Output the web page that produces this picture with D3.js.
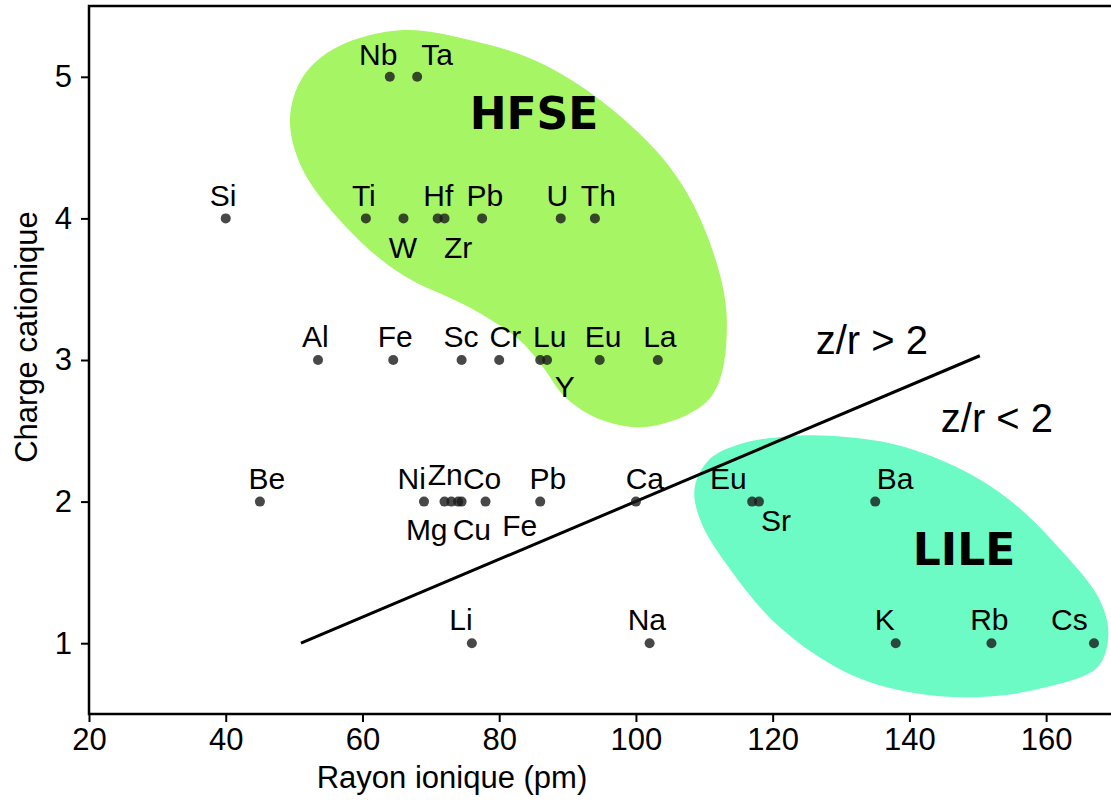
<!DOCTYPE html>
<html>
<head>
<meta charset="utf-8">
<script src="https://cdn.jsdelivr.net/npm/d3@7/dist/d3.min.js"></script>
<style>
  body { margin: 0; background: #fff; }
  svg { display: block; }
</style>
</head>
<body>
<div id="vis"></div>
<script>
// element data: ionic radius (pm) and cation charge
const ELEMENTS = ["Nb","Ta","Si","Ti","W","Hf","Zr","Pb","U","Th",
                  "Al","Fe","Sc","Cr","Lu","Y","Eu","La",
                  "Be","Ni","Mg","Cu","Zn","Co","Fe","Pb","Ca","Eu","Sr","Ba",
                  "Li","Na","K","Rb","Cs"];
const RADIUS = [64, 68, 40, 60.5, 66, 71, 72, 77.5, 89, 94,
                53.5, 64.5, 74.5, 80, 86, 87, 94.7, 103.2,
                45, 69, 72, 73, 74, 74.5, 78, 86, 100, 117, 118, 135,
                76, 102, 138, 152, 167];
const CHARGE = [5, 5, 4, 4, 4, 4, 4, 4, 4, 4,
                3, 3, 3, 3, 3, 3, 3, 3,
                2, 2, 2, 2, 2, 2, 2, 2, 2, 2, 2, 2,
                1, 1, 1, 1, 1];
// where each name sits, in data units
const LABEL_X = [62.3, 70.9, 39.6, 60.2, 65.9, 71.1, 74.0, 77.9, 88.5, 94.5,
                 53.1, 64.8, 74.4, 80.9, 87.4, 89.6, 95.2, 103.5,
                 46.0, 67.2, 69.4, 76.0, 72.1, 77.5, 83.0, 87.1, 101.3, 113.5, 120.5, 137.9,
                 74.4, 101.6, 136.4, 151.7, 163.4];
const LABEL_Y = [5.085, 5.085, 4.09, 4.09, 3.72, 4.09, 3.72, 4.09, 4.09, 4.09,
                 3.09, 3.09, 3.09, 3.09, 3.09, 2.74, 3.09, 3.09,
                 2.09, 2.09, 1.73, 1.73, 2.12, 2.09, 1.76, 2.09, 2.09, 2.09, 1.79, 2.09,
                 1.09, 1.09, 1.09, 1.09, 1.09];

// outlines of the two groups (data units)
const HFSE_SHAPE = [[65.9,5.33],[75.7,5.26],[85.5,5.11],[95.2,4.82],[105.0,4.36],[110.5,3.87],
                    [113.3,3.28],[111.0,2.74],[102.1,2.53],[94.8,2.58],[89.6,2.74],[86.4,2.95],
                    [83.0,3.14],[75.7,3.37],[65.9,3.60],[58.6,3.89],[51.3,4.34],[49.4,4.70],
                    [51.3,5.00],[56.3,5.21]];
const LILE_SHAPE = [[115.5,2.41],[122,2.46],[128.4,2.465],[138.2,2.40],[147.9,2.22],[155.2,1.99],
                    [162.5,1.64],[167.9,1.30],[169.1,1.05],[167.5,0.83],[160.1,0.69],[150.3,0.62],
                    [140.5,0.65],[130.9,0.79],[121.1,1.11],[113.8,1.52],[109.4,1.87],[108.6,2.10],
                    [110.8,2.30]];
const DIVIDER = [[51, 1.0], [150.3, 3.03]];

const X_TICKS = [20, 40, 60, 80, 100, 120, 140, 160];
const Y_TICKS = [1, 2, 3, 4, 5];

const FRAME_WIDTH = 1111;
const FRAME_HEIGHT = 805;
const PLOT = {left: 89, right: 1114.5, top: 6, bottom: 714};
const FONT = "'Liberation Sans', Arial, Helvetica, sans-serif";

const FRAME = d3.select("#vis")
                .append("svg")
                  .attr("width", FRAME_WIDTH)
                  .attr("height", FRAME_HEIGHT);

const X = d3.scaleLinear().domain([20, 170]).range([PLOT.left, PLOT.right]);
const Y = d3.scaleLinear().domain([0.5, 5.5]).range([PLOT.bottom, PLOT.top]);

// group blobs
const blob = d3.line()
               .x(d => X(d[0]))
               .y(d => Y(d[1]))
               .curve(d3.curveCatmullRomClosed.alpha(0.5));

FRAME.append("path")
      .attr("d", blob(HFSE_SHAPE))
      .attr("fill", "#a6f564");
FRAME.append("path")
      .attr("d", blob(LILE_SHAPE))
      .attr("fill", "#6cfbc5");

// z/r = 2 line
FRAME.append("path")
      .attr("d", d3.line().x(d => X(d[0])).y(d => Y(d[1]))(DIVIDER))
      .attr("fill", "none")
      .attr("stroke", "#000")
      .attr("stroke-width", 3);

// points
FRAME.selectAll(".pt")
      .data(ELEMENTS)
      .enter()
      .append("circle")
        .attr("class", "pt")
        .attr("cx", (d, i) => X(RADIUS[i]))
        .attr("cy", (d, i) => Y(CHARGE[i]))
        .attr("r", 5)
        .attr("fill", "#1a1a1a")
        .attr("fill-opacity", 0.8);

// names
FRAME.selectAll(".lbl")
      .data(ELEMENTS)
      .enter()
      .append("text")
        .attr("class", "lbl")
        .attr("x", (d, i) => X(LABEL_X[i]))
        .attr("y", (d, i) => Y(LABEL_Y[i]))
        .attr("text-anchor", "middle")
        .attr("font-family", FONT)
        .attr("font-size", "30px")
        .text(d => d);

// big annotations
const NOTES = [
  {text: "HFSE", x: 85.1, y: 4.63, bold: true},
  {text: "LILE", x: 148.0, y: 1.55, bold: true},
  {text: "z/r > 2", x: 134.5, y: 3.04, bold: false},
  {text: "z/r < 2", x: 152.8, y: 2.49, bold: false}
];
FRAME.selectAll(".note")
      .data(NOTES)
      .enter()
      .append("text")
        .attr("class", "note")
        .attr("x", d => X(d.x))
        .attr("y", d => Y(d.y))
        .attr("text-anchor", "middle")
        .attr("font-family", d => d.bold ? "'DejaVu Sans', sans-serif" : FONT)
        .attr("font-weight", d => d.bold ? "bold" : "normal")
        .attr("font-size", d => d.bold ? "44px" : "40px")
        .text(d => d.text);

// axes
const xAxis = FRAME.append("g")
      .attr("transform", "translate(0," + PLOT.bottom + ")")
      .call(d3.axisBottom(X).tickValues(X_TICKS).tickSize(8).tickPadding(6).tickSizeOuter(0));
const yAxis = FRAME.append("g")
      .attr("transform", "translate(" + PLOT.left + ",0)")
      .call(d3.axisLeft(Y).tickValues(Y_TICKS).tickFormat(d3.format("d"))
              .tickSize(8).tickPadding(9).tickSizeOuter(0));

[xAxis, yAxis].forEach(g => {
  g.select(".domain").remove();
  g.selectAll("line").attr("stroke", "#000").attr("stroke-width", 2);
  g.selectAll("text")
    .attr("font-family", FONT)
    .attr("font-size", "31px")
    .attr("fill", "#000");
});

// frame spines
FRAME.append("rect")
      .attr("x", PLOT.left)
      .attr("y", PLOT.top)
      .attr("width", PLOT.right - PLOT.left)
      .attr("height", PLOT.bottom - PLOT.top)
      .attr("fill", "none")
      .attr("stroke", "#000")
      .attr("stroke-width", 2.5);

// axis titles
FRAME.append("text")
      .attr("x", 452)
      .attr("y", 788)
      .attr("text-anchor", "middle")
      .attr("font-family", FONT)
      .attr("font-size", "31px")
      .text("Rayon ionique (pm)");

FRAME.append("text")
      .attr("transform", "translate(37,337) rotate(-90)")
      .attr("text-anchor", "middle")
      .attr("font-family", FONT)
      .attr("font-size", "31px")
      .text("Charge cationique");
</script>
</body>
</html>
